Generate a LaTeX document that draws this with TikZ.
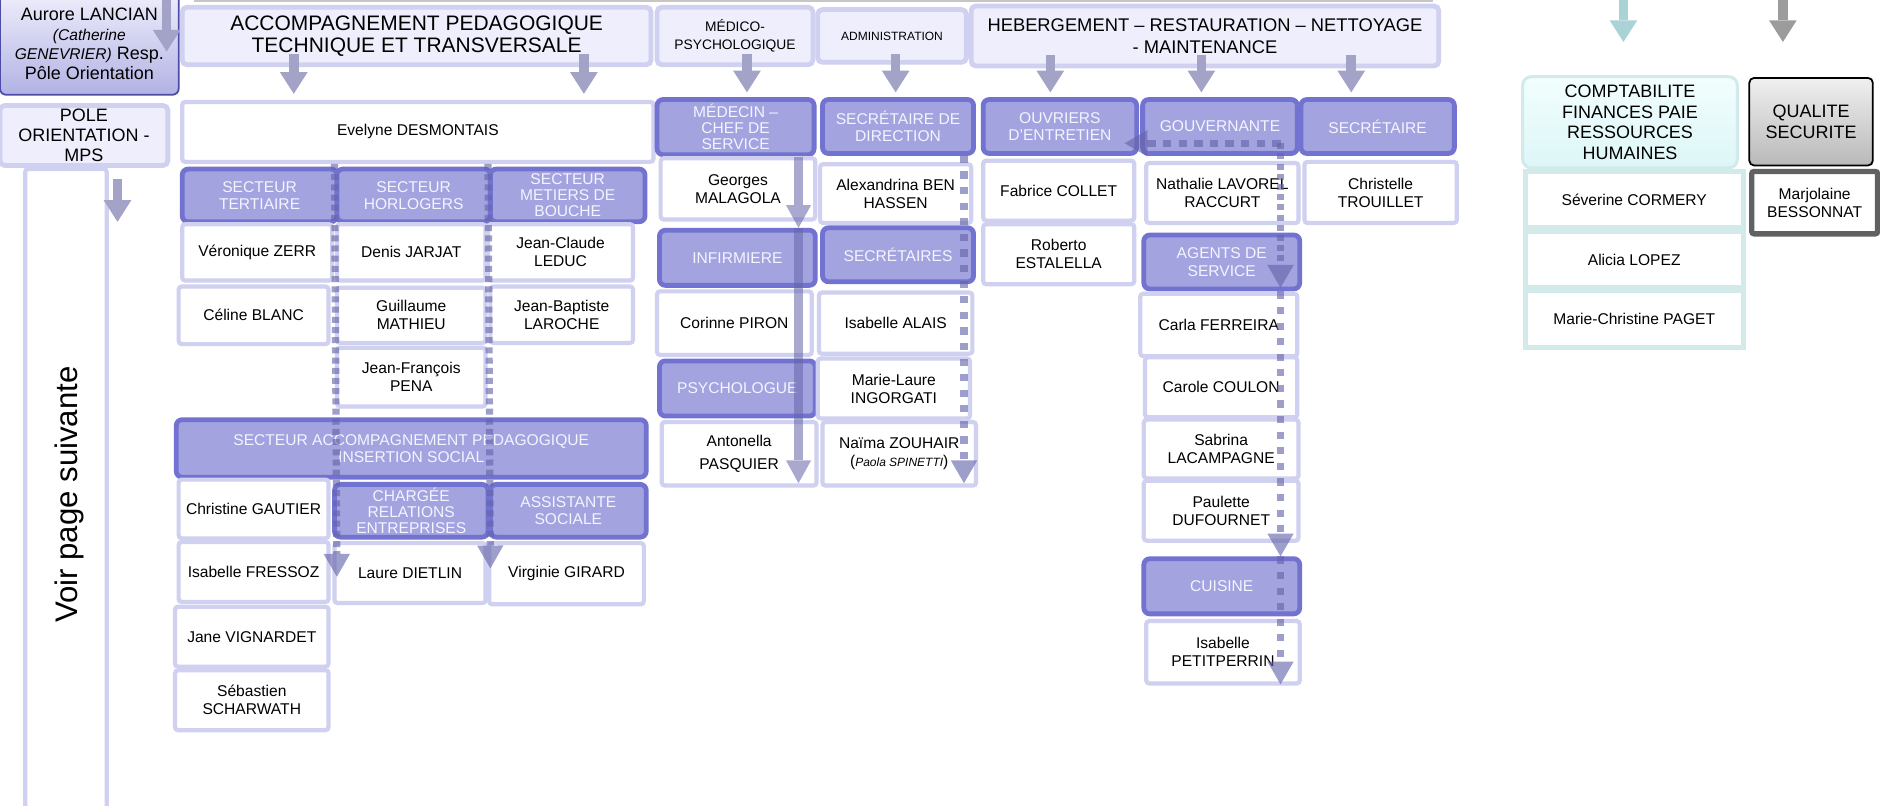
\documentclass[tikz,border=0pt]{standalone}
\usepackage{fontspec}
\setmainfont{Liberation Sans}
\usetikzlibrary{arrows.meta}
\definecolor{lav}{HTML}{D0D0F0}
\definecolor{headfill}{HTML}{EEEEFC}
\definecolor{rolefill}{HTML}{A3A3E0}
\definecolor{rolebd}{HTML}{7272D0}
\definecolor{roletext}{HTML}{F4F4FF}
\definecolor{arrcol}{HTML}{A3A3C8}
\definecolor{dashcol}{HTML}{6464AA}
\definecolor{tealbd}{HTML}{D2EAEA}
\definecolor{tealtop}{HTML}{F2FEFE}
\definecolor{tealbot}{HTML}{DDF6F7}
\definecolor{tealarr}{HTML}{A9D3D5}
\definecolor{grayarr}{HTML}{9C9C9C}
\definecolor{aurbd}{HTML}{4C4CA8}
\definecolor{aurtop}{HTML}{EEEEFC}
\definecolor{aurbot}{HTML}{B2B2E4}
\newcommand\ob[7]{\node[#1, minimum width={((#4)-(#2))*1pt}, minimum height={((#5)-(#3))*1pt}] (#6) at ({((#2)+(#4))/2},{((#3)+(#5))/2}) {#7};}
\begin{document}
\begin{tikzpicture}[x=1pt,y=-1pt,
 box/.style={rectangle, inner sep=0pt, align=center, font=\fontsize{13}{15}\selectfont},
 person/.style={box, draw=lav, line width=3.5pt, fill=white, rounded corners=2.5pt},
 head/.style={box, draw=lav, line width=4pt, fill=headfill, rounded corners=4pt},
 role/.style={box, draw=rolebd, line width=4pt, fill=rolefill, text=roletext, rounded corners=5pt, font=\fontsize{13}{14.5}\selectfont},
 aurstyle/.style={box, draw=aurbd, line width=1.5pt, top color=aurtop, bottom color=aurbot, rounded corners=5pt, font=\fontsize{15}{16.5}\selectfont},
 comptastyle/.style={box, draw=tealbd, line width=2.5pt, top color=tealtop, bottom color=tealbot, rounded corners=7pt, font=\fontsize{15}{17}\selectfont},
 tealperson/.style={box, draw=tealbd, line width=4pt, fill=white},
 qualstyle/.style={box, draw=black, line width=1.5pt, top color=gray!12, bottom color=gray!55, rounded corners=4pt, font=\fontsize{15}{17}\selectfont},
 marjstyle/.style={box, draw=black!62, line width=4.5pt, fill=white, rounded corners=2pt},
 bigarrow/.style={draw=arrcol, line width=8pt, -{Triangle[width=23pt,length=18pt,line width=0pt]}},
 dasharrow/.style={draw=dashcol, opacity=0.62, line width=6pt, dash pattern=on 6pt off 7pt, -{Triangle[width=22pt,length=19pt,line width=0pt]}},
 densearrow/.style={dasharrow, dash pattern=on 5pt off 3.5pt},
 solidarrow/.style={draw=dashcol, opacity=0.55, line width=7pt, -{Triangle[width=21pt,length=19pt,line width=0pt]}}
]
\path[use as bounding box, fill=white] (0,0) rectangle (1568,672.2);

% shadow of the box above (cut off)
\draw[gray!45, line width=3pt] (162,0.5) -- (1195,0.5);

% ---------- left column ----------
\ob{aurstyle}{0}{-6}{149}{79}{aur}{Aurore LANCIAN\\{\itshape\fontsize{13}{16.5}\selectfont(Catherine}\\{\itshape\fontsize{13}{16.5}\selectfont GENEVRIER)} Resp.\\Pôle Orientation}
\coordinate (aurA) at (139,-3);
\coordinate (aurB) at (139,43);
\draw[bigarrow] (aurA) -- (aurB);

\ob{head, font=\fontsize{15}{16.5}\selectfont}{0}{88}{140}{138}{pole}{POLE\\ORIENTATION -\\MPS}
\ob{person}{21}{141}{89}{690}{voir}{}
\node[rotate=90, font=\fontsize{26}{28}\selectfont] (voirtxt) at ([xshift=3pt,yshift=3pt]voir.center) {Voir page suivante};
\coordinate (poleA) at (98,149);
\coordinate (poleB) at (98,185);
\draw[bigarrow] (poleA) -- (poleB);

% ---------- headers ----------
\ob{head, font=\fontsize{17.5}{18.5}\selectfont}{152}{6}{543}{54}{acc}{ACCOMPAGNEMENT PEDAGOGIQUE\\TECHNIQUE ET TRANSVERSALE}
\ob{head, font=\fontsize{11.5}{14.5}\selectfont}{548}{6}{678}{54}{med}{MÉDICO-\\PSYCHOLOGIQUE}
\ob{head, font=\fontsize{10}{12}\selectfont}{682}{8}{806}{52}{adm}{ADMINISTRATION}
\ob{head, font=\fontsize{15.3}{18}\selectfont}{810}{5}{1200}{55}{heb}{HEBERGEMENT – RESTAURATION – NETTOYAGE\\- MAINTENANCE}

% ---------- accompagnement ----------
\ob{person}{152}{85}{545}{135}{ev}{Evelyne DESMONTAIS}
\ob{role}{152}{141}{281}{185}{st}{SECTEUR\\TERTIAIRE}
\ob{role}{281}{141}{409}{185}{sh}{SECTEUR\\HORLOGERS}
\ob{role, font=\fontsize{13}{13.5}\selectfont}{409}{141}{538}{185}{sm}{SECTEUR\\METIERS DE\\BOUCHE}
\ob{person}{152}{187}{277}{234}{vz}{Véronique ZERR}
\ob{person}{281}{187}{405}{234}{dj}{Denis JARJAT}
\ob{person}{407}{187}{528}{234}{jcl}{Jean-Claude\\LEDUC}
\ob{person}{149}{239}{274}{287}{cb}{Céline BLANC}
\ob{person}{281}{240}{405}{286}{gm}{Guillaume\\MATHIEU}
\ob{person}{409}{239}{528}{286}{jbl}{Jean-Baptiste\\LAROCHE}
\ob{person}{281}{290}{405}{339}{jfp}{Jean-François\\PENA}
\ob{role}{147}{350}{539}{398}{sap}{SECTEUR ACCOMPAGNEMENT PEDAGOGIQUE\\INSERTION SOCIAL}
\ob{person}{149}{400}{274}{449}{cg}{Christine GAUTIER}
\ob{role, font=\fontsize{13}{13.5}\selectfont}{279}{404}{407}{448}{cre}{CHARGÉE\\RELATIONS\\ENTREPRISES}
\ob{role}{409}{404}{539}{448}{as}{ASSISTANTE\\SOCIALE}
\ob{person}{149}{452}{274}{502}{ifr}{Isabelle FRESSOZ}
\ob{person}{279}{453}{405}{503}{ld}{Laure DIETLIN}
\ob{person}{408}{453}{537}{504}{vg}{Virginie GIRARD}
\ob{person}{146}{506}{274}{556}{jv}{Jane VIGNARDET}
\ob{person}{146}{559}{274}{609}{ss}{Sébastien\\SCHARWATH}

% ---------- médico ----------
\ob{role, font=\fontsize{13}{13.5}\selectfont}{548}{83}{679}{129}{mcs}{MÉDECIN –\\CHEF DE\\SERVICE}
\ob{person}{551}{132}{680}{183}{gma}{Georges\\MALAGOLA}
\ob{role}{550}{192}{680}{238}{inf}{INFIRMIERE}
\ob{person}{548}{243}{677}{296}{cpi}{Corinne PIRON}
\ob{role}{550}{301}{680}{347}{psy}{PSYCHOLOGUE}
\ob{person}{552}{352}{681}{405}{apa}{Antonella\\[4pt]PASQUIER}

% ---------- administration ----------
\ob{role}{686}{83}{812}{128}{sdd}{SECRÉTAIRE DE\\DIRECTION}
\ob{person}{684}{137}{810}{186}{abh}{Alexandrina BEN\\HASSEN}
\ob{role}{686}{190}{812}{235}{sec}{SECRÉTAIRES}
\ob{person}{683}{244}{811}{295}{ial}{Isabelle ALAIS}
\ob{person}{682}{299}{809}{349}{mli}{Marie-Laure\\INGORGATI}
\ob{person}{686}{352}{814}{405}{nzo}{Naïma ZOUHAIR\\(\textit{\fontsize{10}{12}\selectfont Paola SPINETTI})}

% ---------- hébergement ----------
\ob{role}{820}{83}{948}{128}{oue}{OUVRIERS\\D'ENTRETIEN}
\ob{person}{820}{134}{946}{184}{fco}{Fabrice COLLET}
\ob{person}{820}{187}{946}{237}{res}{Roberto\\ESTALELLA}
\ob{role}{953}{83}{1082}{128}{gou}{GOUVERNANTE}
\ob{person}{956}{136}{1083}{186}{nlr}{Nathalie LAVOREL\\RACCURT}
\ob{role}{954}{196}{1084}{241}{ags}{AGENTS DE\\SERVICE}
\ob{person}{951}{245}{1082}{297}{cfe}{Carla FERREIRA}
\ob{person}{955}{298}{1082}{348}{cco}{Carole COULON}
\ob{person}{954}{350}{1083}{399}{sla}{Sabrina\\LACAMPAGNE}
\ob{person}{954}{401}{1083}{451}{pdu}{Paulette\\DUFOURNET}
\ob{role}{954}{466}{1084}{512}{cui}{CUISINE}
\ob{person}{956}{518}{1084}{570}{ipe}{Isabelle\\PETITPERRIN}
\ob{role}{1085}{83}{1213}{128}{sct}{SECRÉTAIRE}
\ob{person}{1088}{135}{1215}{186}{ctr}{Christelle\\TROUILLET}

% ---------- right ----------
\ob{comptastyle}{1270}{64}{1449}{140}{cpt}{COMPTABILITE\\FINANCES PAIE\\RESSOURCES\\HUMAINES}
\ob{tealperson}{1272}{143}{1454}{190}{sev}{Séverine CORMERY}
\ob{tealperson}{1272}{193}{1454}{240}{alo}{Alicia LOPEZ}
\ob{tealperson}{1272}{242}{1454}{290}{mcp}{Marie-Christine PAGET}
\ob{qualstyle}{1459}{65}{1562}{138}{qua}{QUALITE\\SECURITE}
\ob{marjstyle}{1461}{143}{1566}{195}{mbe}{Marjolaine\\BESSONNAT}

\coordinate (tealA) at (1354,-3);
\coordinate (tealB) at (1354,35);
\coordinate (grayA) at (1487,-3);
\coordinate (grayB) at (1487,35);
\draw[bigarrow, draw=tealarr] (tealA) -- (tealB);
\draw[bigarrow, draw=grayarr] (grayA) -- (grayB);

% ---------- header arrows ----------
\draw[bigarrow] ([xshift=-102.5pt,yshift=11pt]acc.south) -- ([xshift=-103.5pt,yshift=5pt]ev.north);
\draw[bigarrow] ([xshift=139.5pt,yshift=11pt]acc.south) -- ([xshift=138.5pt,yshift=5pt]ev.north);
\draw[bigarrow] ([xshift=10pt,yshift=11pt]med.south) -- ([xshift=9.5pt,yshift=4pt]mcs.north);
\draw[bigarrow] ([xshift=3pt,yshift=9pt]adm.south) -- ([xshift=-2pt,yshift=4pt]sdd.north);
\draw[bigarrow] ([xshift=-129pt,yshift=11pt]heb.south) -- ([xshift=-8pt,yshift=4pt]oue.north);
\draw[bigarrow] ([xshift=-3pt,yshift=11pt]heb.south) -- ([xshift=-15.5pt,yshift=4pt]gou.north);
\draw[bigarrow] ([xshift=122pt,yshift=11pt]heb.south) -- ([xshift=-22pt,yshift=4pt]sct.north);

% ---------- dashed / solid internal links ----------
\coordinate (tipL) at (281,481);
\coordinate (tipR) at (409,474);
\draw[densearrow] (ev.south -| sh.west) -- (tipL);
\draw[densearrow] (ev.south -| sm.west) -- (tipR);

\coordinate (medx) at (666,0);
\coordinate (tipM) at (666,403);
\draw[solidarrow] (mcs.south -| medx) -- (inf.north -| medx);
\draw[solidarrow] (inf.north -| medx) -- (tipM);

\coordinate (admx) at (804,0);
\coordinate (tipA) at (804,403);
\draw[dasharrow] (sdd.south -| admx) -- (tipA);

\coordinate (hstart) at (1068,119.5);
\coordinate (htip) at (938,119.5);
\draw[dasharrow, dash pattern=on 7pt off 6pt] (hstart) -- (htip);
\draw[densearrow] (hstart) -- ([yshift=3pt]ags.south -| hstart);
\draw[dasharrow] (ags.south -| hstart) -- (cui.north -| hstart);
\draw[dasharrow] (cui.north -| hstart) -- ([yshift=1pt]ipe.south -| hstart);
\end{tikzpicture}
\end{document}
